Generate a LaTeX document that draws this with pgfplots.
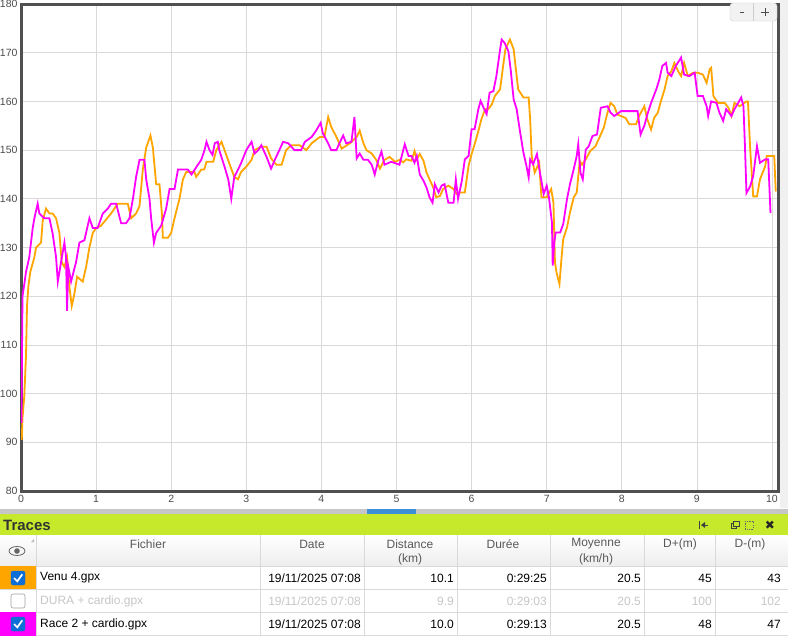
\documentclass[border=0pt]{standalone}
\usepackage{fontspec}
\setmainfont{Liberation Sans}
\newfontfamily\symfont{DejaVu Sans}
\usepackage{pgfplots}
\pgfplotsset{compat=1.18}
\definecolor{venu}{RGB}{255,165,0}
\definecolor{race}{RGB}{255,0,255}
\definecolor{lime}{RGB}{198,234,43}
\definecolor{frame}{RGB}{80,80,80}
\definecolor{cbox}{RGB}{12,110,214}
\definecolor{scrollblue}{RGB}{61,143,214}

\pgfplotstableread{
km bpm
0.01 90.5
0.02 95
0.044 99.5
0.067 108
0.08 118
0.098 122
0.124 125
0.178 128
0.2 130
0.267 131
0.289 135.5
0.333 138
0.378 137
0.42 137
0.467 136
0.511 133
0.542 127
0.578 126
0.613 128
0.644 122
0.676 118
0.711 120.5
0.747 124
0.822 123
0.867 126
0.911 130
0.956 133
1.0 134
1.067 134.5
1.2 137
1.244 138
1.289 139
1.422 139
1.467 136
1.533 137
1.578 138.5
1.622 146
1.667 150.5
1.724 153
1.756 150.5
1.8 143
1.844 143
1.876 137
1.889 132
1.956 132
2.0 133
2.044 136
2.11 140
2.156 144
2.2 145.5
2.31 145.5
2.333 144.5
2.4 146
2.44 146
2.47 147.6
2.56 147.6
2.6 150
2.67 151.7
2.71 150
2.78 147
2.84 144.5
2.89 144
2.93 145.5
3.0 146.6
3.07 148
3.11 150
3.2 150.7
3.27 150.7
3.33 148.3
3.4 147
3.47 147
3.53 150
3.6 151
3.71 151
3.8 150
3.87 151.4
3.98 152.7
4.04 152.7
4.09 156.8
4.13 154.8
4.2 152.7
4.27 150.3
4.31 150.7
4.38 151.4
4.47 152.7
4.51 154
4.56 151.4
4.6 150
4.67 149.3
4.73 148
4.78 146.2
4.84 148
4.91 148.6
4.98 147.6
5.04 148
5.09 147.5
5.13 148.1
5.2 147.8
5.24 149.8
5.27 148.1
5.31 149.2
5.36 147.8
5.4 145.4
5.44 144
5.49 142.3
5.53 140.3
5.58 140.6
5.62 142
5.69 142.7
5.76 142
5.8 141
5.84 141.3
5.91 141.3
5.96 146.8
6.0 149.2
6.04 151.2
6.09 153.9
6.13 156.3
6.18 158.4
6.22 158.4
6.27 159.4
6.31 161.1
6.38 162.5
6.42 167.3
6.45 170.7
6.51 172.7
6.56 170.7
6.59 166.6
6.62 162.5
6.69 160.8
6.76 160.8
6.78 156.3
6.8 148.8
6.84 145.4
6.9 147.4
6.93 140.3
7.0 140.3
7.06 142
7.09 139.2
7.11 127
7.13 124.9
7.17 122.5
7.2 128.3
7.22 131.7
7.27 134.1
7.31 137.2
7.36 140.3
7.4 141.3
7.44 147.8
7.47 147
7.52 148.1
7.58 149.8
7.65 150.8
7.7 152.5
7.76 154.6
7.81 157.7
7.85 159.7
7.9 159
7.94 157.3
7.99 157
8.05 156.6
8.1 155.3
8.19 155.3
8.23 157
8.3 159
8.34 156.3
8.39 154.2
8.43 156.6
8.48 157.7
8.52 160
8.57 162.5
8.61 165.2
8.66 166.2
8.7 167.9
8.75 166.2
8.79 165.2
8.83 167.9
8.88 165.2
8.95 165.9
9.01 165.9
9.08 165.5
9.13 163.8
9.17 166.6
9.19 166.9
9.22 161.1
9.28 159.7
9.37 159.7
9.42 158.7
9.46 157
9.5 159.7
9.57 159
9.66 160
9.68 160
9.71 150.1
9.75 140.5
9.8 140.5
9.84 144
9.91 146.7
9.93 148.8
10.03 148.8
10.05 141.5
}\venu

\pgfplotstableread{
km bpm
0.005 94
0.02 120
0.044 122.5
0.067 125
0.11 128
0.156 134
0.178 136
0.222 139
0.244 137
0.31 136
0.378 136
0.42 133
0.467 128
0.49 123
0.533 127
0.578 131
0.6 128
0.613 117
0.63 126
0.667 123
0.733 127
0.778 131
0.844 131.5
0.911 136
0.956 134
1.02 134
1.09 137
1.156 138
1.2 139
1.267 139
1.333 135
1.4 135
1.444 136
1.49 140
1.533 144.5
1.578 148
1.644 148
1.667 144
1.711 140
1.733 136
1.77 131
1.8 133
1.867 134.5
1.933 138
1.978 142
2.044 142
2.09 146
2.22 146
2.27 145
2.356 147
2.4 148
2.444 150
2.47 151.7
2.51 150
2.55 149
2.58 151.4
2.62 151.7
2.64 150
2.71 146.6
2.76 144
2.8 140
2.84 144.5
2.89 146
2.93 147.3
3.0 150
3.07 151.7
3.11 149.3
3.16 150
3.2 151
3.27 148.6
3.33 146.2
3.38 148
3.44 150
3.49 151.7
3.56 151.4
3.64 150
3.73 150
3.78 151.7
3.87 152.7
3.93 154
3.99 155.6
4.02 153.4
4.09 151.4
4.13 150
4.2 150
4.24 151.4
4.29 153
4.33 151.4
4.4 151.7
4.44 156.8
4.47 148.3
4.51 149.3
4.56 148
4.62 148
4.67 147
4.71 145
4.76 148
4.8 149.7
4.84 147
4.93 147.6
5.04 147
5.11 151.2
5.16 148.8
5.2 148.8
5.24 147.4
5.27 148.8
5.31 145
5.36 143.7
5.4 142.3
5.44 140.3
5.48 139.2
5.51 143
5.56 141.3
5.6 142.7
5.64 143
5.69 139.2
5.76 139.2
5.79 144
5.82 140
5.87 143.7
5.91 148.1
5.96 148.8
6.0 154.3
6.04 154.3
6.09 158.4
6.12 160.1
6.16 158.7
6.2 157.4
6.24 161.8
6.29 162.1
6.33 165.2
6.38 170.7
6.4 172.7
6.44 172
6.49 170.3
6.52 166.6
6.56 160.4
6.6 158.4
6.64 154.3
6.69 149.5
6.73 146.8
6.76 144.4
6.78 148.1
6.82 147.1
6.87 149.2
6.91 145.4
6.96 141
7.0 142.7
7.03 140.3
7.07 135.1
7.08 126.3
7.1 131
7.12 133.1
7.18 133.1
7.22 134.8
7.27 139.9
7.31 143
7.36 146.1
7.4 148.8
7.42 151.2
7.45 145.3
7.48 144
7.52 150.1
7.56 150.8
7.61 152.9
7.67 153.2
7.72 158.7
7.81 159
7.85 157.7
7.9 157
7.99 158
8.1 158
8.21 158
8.25 153.2
8.3 155
8.34 157.3
8.39 159.7
8.46 162.5
8.5 164.5
8.54 167.3
8.59 167.9
8.61 165.9
8.66 165.2
8.72 167.3
8.79 169
8.83 165.5
8.9 165.2
8.97 165.9
9.01 161.1
9.08 161.1
9.13 159
9.15 157
9.19 160
9.26 159.7
9.3 157.7
9.35 156
9.39 158.4
9.46 157
9.5 158.4
9.55 159.7
9.59 160.8
9.62 159
9.64 150.8
9.66 141.2
9.71 142.6
9.75 144.7
9.8 150.8
9.84 147.4
9.91 148.1
9.95 148.1
9.98 137.1
}\race

\begin{document}
\begin{tikzpicture}[x=1pt,y=-1pt]
\useasboundingbox (0,0) rectangle (788,640);
\fill[white] (0,0) rectangle (788,640);
\fill[gray!12] (780,0) rectangle (788,508);

\begin{axis}[
    name=hr,
    at={(21pt,-491pt)}, anchor=south west,
    scale only axis, width=757pt, height=487pt,
    xmin=0, xmax=10.08, ymin=80, ymax=180,
    xtick={0,1,...,10}, ytick={80,90,...,180},
    grid=major,
    grid style={gray!30, line width=0.7pt},
    axis line style={draw=none},
    clip mode=individual,
    major tick length=0pt,
    tick label style={font=\fontsize{10.5}{12}\selectfont, text=black!70},
    /pgf/number format/assume math mode=true,
    xticklabel style={yshift=-1pt},
]
% plot frame, under the curves
\draw[frame, line width=3pt] (rel axis cs:0,0) rectangle (rel axis cs:1,1);
\addplot[venu, line width=1.8pt] table[x=km, y=bpm] {\venu};
\addplot[race, line width=1.8pt] table[x=km, y=bpm] {\race};
\end{axis}

% zoom buttons
\draw[gray!40, fill=gray!10, rounded corners=3pt] (730,3) rectangle (777,21);
\draw[gray!40] (753,3) -- (753,21);
\draw[black!70, line width=0.8pt] (740,12.5) -- (744,12.5);
\draw[black!70, line width=1pt] (761,12) -- (769,12) (765,8) -- (765,16);

% scrollbar
\fill[gray!45] (0,509) rectangle (788,514);
\fill[scrollblue] (367,509) rectangle (416,514);

% green header
\fill[lime] (0,514) rectangle (788,535);
\node[anchor=west, inner sep=0pt, font=\bfseries\fontsize{15}{17}\selectfont, text=black!80] at (3,525) {Traces};
\draw[black!75, line width=1pt] (699,521) -- (699,529);
\fill[black!75] (701,525) -- (705,522) -- (705,528) -- cycle;
\draw[black!75, line width=1pt] (705,525) -- (708,525);
\draw[black!75, line width=0.8pt] (731,523) rectangle (736,528);
\draw[black!75, line width=0.8pt, fill=lime] (733,521) rectangle (739,526);
\draw[black!60, line width=0.7pt, dash pattern=on 1.2pt off 1.2pt] (745,521) rectangle (753,529);
\node[font=\symfont\fontsize{12}{14}\selectfont, text=black!85, inner sep=0pt] at (770,525) {✖};

% table header
\shade[top color=white, bottom color=gray!14] (0,535) rectangle (788,566);
\foreach \x in {36,260,364,457,550,644,715} {
  \draw[gray!30] (\x,535) -- (\x,635);
}
\foreach \y in {566,589,612,635} {
  \draw[gray!30] (0,\y) -- (788,\y);
}
% eye and sort mark
\draw[black!60, line width=0.8pt] (17,551) ellipse (8pt and 4.5pt);
\fill[black!60] (17,551) circle (2.8pt);
\fill[gray!55] (31,542) -- (34,542) -- (34,539) -- cycle;

\begin{scope}[every node/.style={font=\fontsize{12}{14}\selectfont, text=black!65, inner sep=0pt}]
\node at (148,544) {Fichier};
\node at (312,544) {Date};
\node at (410,544) {Distance};
\node at (410,559) {(km)};
\node at (503,544) {Durée};
\node at (596,544) {Moyenne};
\node at (596,559) {(km/h)};
\node at (680,544) {D+(m)};
\node at (750,544) {D-(m)};
\end{scope}

% rows
\fill[venu] (0,566) rectangle (36,589);
\fill[race] (0,612) rectangle (36,636);
\fill[white] (0,636) rectangle (788,640);

\draw[cbox, fill=cbox, rounded corners=2pt] (11,571) rectangle (25,585);
\draw[white, line width=1.7pt] (14,578) -- (17.3,581.3) -- (22.3,574.3);
\draw[gray!75, line width=0.6pt, fill=white, rounded corners=2pt] (11,594) rectangle (25,608);
\draw[cbox, fill=cbox, rounded corners=2pt] (11,617) rectangle (25,631);
\draw[white, line width=1.7pt] (14,624) -- (17.3,627.3) -- (22.3,620.3);

\begin{scope}[every node/.style={font=\fontsize{12}{14}\selectfont, text=black, inner sep=0pt}]
\node[anchor=west] at (40,578) {Venu 4.gpx};
\node[anchor=east] at (361,578) {19/11/2025 07:08};
\node[anchor=east] at (454,578) {10.1};
\node[anchor=east] at (547,578) {0:29:25};
\node[anchor=east] at (641,578) {20.5};
\node[anchor=east] at (712,578) {45};
\node[anchor=east] at (781,578) {43};

\node[anchor=west] at (40,624) {Race 2 + cardio.gpx};
\node[anchor=east] at (361,624) {19/11/2025 07:08};
\node[anchor=east] at (454,624) {10.0};
\node[anchor=east] at (547,624) {0:29:13};
\node[anchor=east] at (641,624) {20.5};
\node[anchor=east] at (712,624) {48};
\node[anchor=east] at (781,624) {47};
\end{scope}

\begin{scope}[every node/.style={font=\fontsize{12}{14}\selectfont, text=black!22, inner sep=0pt}]
\node[anchor=west] at (40,601) {DURA + cardio.gpx};
\node[anchor=east] at (361,601) {19/11/2025 07:08};
\node[anchor=east] at (454,601) {9.9};
\node[anchor=east] at (547,601) {0:29:03};
\node[anchor=east] at (641,601) {20.5};
\node[anchor=east] at (712,601) {100};
\node[anchor=east] at (781,601) {102};
\end{scope}
\end{tikzpicture}
\end{document}
